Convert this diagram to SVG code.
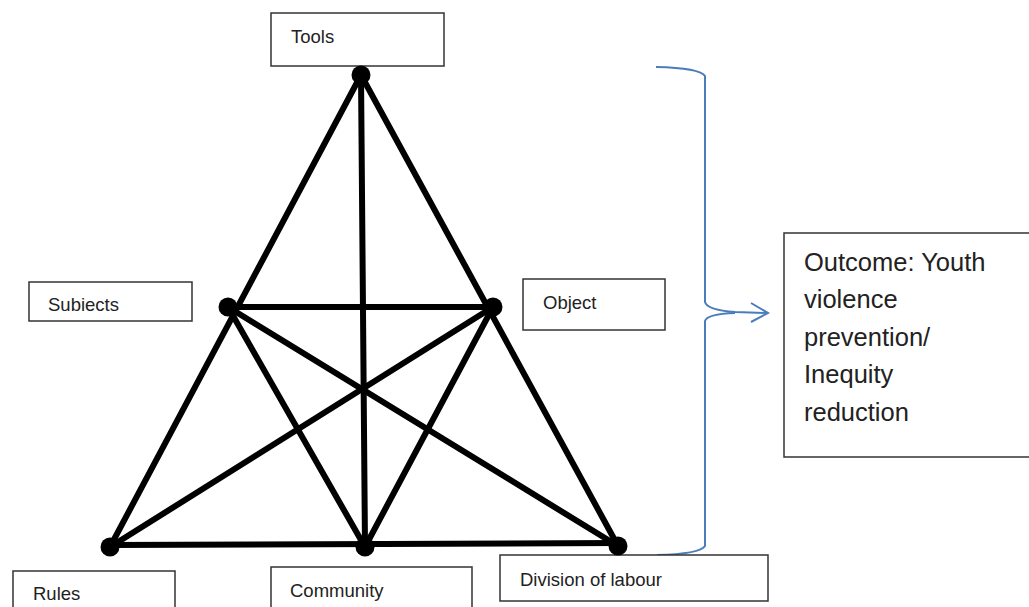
<svg xmlns="http://www.w3.org/2000/svg" width="1029" height="607" viewBox="0 0 1029 607">
<style>
.box{fill:#fff;stroke:#333;stroke-width:1.5}
.lbl{font-family:"Liberation Sans",Arial,sans-serif;font-size:18.5px;fill:#222}
.big{font-family:"Liberation Sans",Arial,sans-serif;font-size:25.5px;fill:#222}
.edge{stroke:#000;stroke-width:6;stroke-linecap:round;fill:none}
.dot{fill:#000}
.brace{stroke:#4a7ebb;stroke-width:2;fill:none}
</style>
<rect width="1029" height="607" fill="#fff"/>
<g id="connectors">
<line class="edge" x1="361" y1="75" x2="110" y2="547"/>
<line class="edge" x1="361" y1="75" x2="618" y2="546"/>
<line class="edge" x1="361" y1="75" x2="365" y2="547"/>
<line class="edge" x1="228" y1="307" x2="493" y2="307"/>
<line class="edge" x1="110" y1="545" x2="618" y2="543"/>
<line class="edge" x1="228" y1="307" x2="365" y2="547"/>
<line class="edge" x1="228" y1="307" x2="618" y2="546"/>
<line class="edge" x1="493" y1="307" x2="110" y2="547"/>
<line class="edge" x1="493" y1="307" x2="365" y2="547"/>
</g>
<g id="brace">
<path class="brace" d="M656,67 Q700,68 705,76 L705,302 Q707,310 735,312 L768,313"/>
<path class="brace" d="M735,313 Q707,314 705,321 L705,546 Q700,554 657,555"/>
<path class="brace" d="M751,303 L768,313 L751,322"/>
</g>
<g id="tools"><rect class="box" x="271" y="13" width="173" height="53"/><text class="lbl" x="291" y="43">Tools</text><circle class="dot" cx="361" cy="75" r="9.5"/></g>
<g id="subjects"><rect class="box" x="29" y="282" width="163" height="39"/><text class="lbl" x="48" y="311">Subiects</text><circle class="dot" cx="228" cy="307" r="9.5"/></g>
<g id="object"><rect class="box" x="523" y="279" width="142" height="51"/><text class="lbl" x="543" y="309">Object</text><circle class="dot" cx="493" cy="307" r="9.5"/></g>
<g id="rules"><rect class="box" x="13" y="571" width="162" height="40"/><text class="lbl" x="33" y="600">Rules</text><circle class="dot" cx="110" cy="547" r="9.5"/></g>
<g id="community"><rect class="box" x="271" y="567" width="201" height="44"/><text class="lbl" x="290" y="597">Community</text><circle class="dot" cx="365" cy="547" r="9.5"/></g>
<g id="division"><rect class="box" x="500" y="555" width="268" height="46"/><text class="lbl" x="520" y="586">Division of labour</text><circle class="dot" cx="618" cy="546" r="9.5"/></g>
<g id="outcome"><rect class="box" x="784" y="233" width="250" height="224"/>
<text class="big" x="804" y="271">Outcome: Youth</text>
<text class="big" x="804" y="308">violence</text>
<text class="big" x="804" y="346">prevention/</text>
<text class="big" x="804" y="383">Inequity</text>
<text class="big" x="804" y="421">reduction</text>
</g>
</svg>
